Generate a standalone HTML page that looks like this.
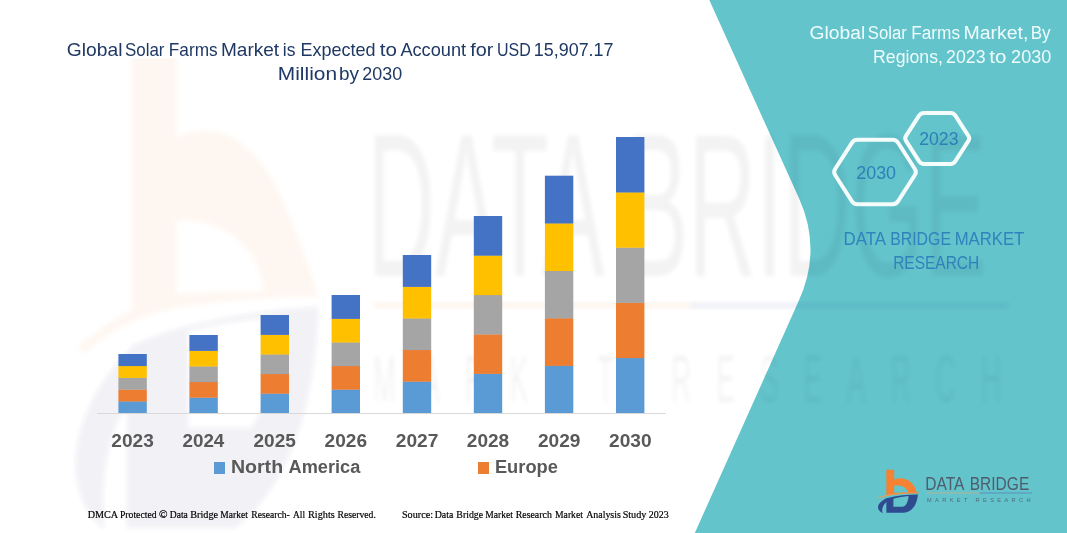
<!DOCTYPE html>
<html lang="en">
<head>
<meta charset="utf-8">
<title>Global Solar Farms Market</title>
<style>
html,body{margin:0;padding:0;background:#fff;}
body{width:1067px;height:533px;overflow:hidden;font-family:"Liberation Sans",sans-serif;}
svg{display:block;}
.sans{font-family:"Liberation Sans",sans-serif;}
.serif{font-family:"Liberation Serif",serif;}
</style>
</head>
<body>
<svg width="1067" height="533" viewBox="0 0 1067 533">
<defs>
<filter id="soft" x="-5%" y="-5%" width="110%" height="110%"><feGaussianBlur stdDeviation="2"/></filter>
</defs>
<rect width="1067" height="533" fill="#ffffff"/>

<!-- faint watermark on the white area -->
<g filter="url(#soft)">
<path fill-rule="evenodd" fill="#F58232" opacity="0.075" d="M132 30 H176 V138 C215 118 255 140 280 195 C298 235 310 270 318 296 C260 297 210 302 176 308 C150 313 120 322 84 353 L78 346 C100 330 115 318 132 310 Z M176 221.5 C200 217 232 228 250 252 C258 264 262 278 264 291.5 L176 293 Z"/>
<path fill-rule="evenodd" fill="#34497C" opacity="0.07" d="M318 307 C316 390 296 480 235 528 L127 528 L127 405 C110 430 100 470 104 529 C66 500 58 420 134 345 C170 328 234 312 318 307 Z M188 331 C220 323 250 319 276 317 C275 370 268 410 250 428 L188 428 Z"/>
</g>
<rect x="60" y="28" width="560" height="30.5" fill="#ffffff"/>

<!-- teal side panel -->
<path d="M709.3 0 L798.9 198 Q822 249 799.1 300.1 L694.8 533 L1067 533 L1067 0 Z" fill="#63C4CC"/>
<!-- faint brand watermark lettering, runs across the chart and the panel -->
<g class="sans" opacity="0.048" fill="#000" filter="url(#soft)">
<text transform="translate(367,275.5) scale(0.50,1)" font-size="205" textLength="1240" lengthAdjust="spacingAndGlyphs">DATA BRIDGE</text>
<text transform="translate(373,401.5) scale(0.42,1)" font-size="66" textLength="1495" lengthAdjust="spacing">MARKET RESEARCH</text>
</g>
<g opacity="0.07" filter="url(#soft)">
<rect x="375" y="302" width="315" height="7" fill="#F58232"/>
<rect x="690" y="302" width="318" height="7" fill="#2F4B8F"/>
</g>

<!-- chart -->
<g>
<rect x="118.4" y="401.2" width="28.4" height="12.1" fill="#5B9BD5"/>
<rect x="118.4" y="389.4" width="28.4" height="12.1" fill="#ED7D31"/>
<rect x="118.4" y="377.6" width="28.4" height="12.1" fill="#A5A5A5"/>
<rect x="118.4" y="365.8" width="28.4" height="12.1" fill="#FFC000"/>
<rect x="118.4" y="354.0" width="28.4" height="12.1" fill="#4472C4"/>
<rect x="189.4" y="397.4" width="28.4" height="15.9" fill="#5B9BD5"/>
<rect x="189.4" y="381.8" width="28.4" height="15.9" fill="#ED7D31"/>
<rect x="189.4" y="366.2" width="28.4" height="15.9" fill="#A5A5A5"/>
<rect x="189.4" y="350.6" width="28.4" height="15.9" fill="#FFC000"/>
<rect x="189.4" y="335.0" width="28.4" height="15.9" fill="#4472C4"/>
<rect x="260.6" y="393.4" width="28.4" height="19.9" fill="#5B9BD5"/>
<rect x="260.6" y="373.8" width="28.4" height="19.9" fill="#ED7D31"/>
<rect x="260.6" y="354.2" width="28.4" height="19.9" fill="#A5A5A5"/>
<rect x="260.6" y="334.6" width="28.4" height="19.9" fill="#FFC000"/>
<rect x="260.6" y="315.0" width="28.4" height="19.9" fill="#4472C4"/>
<rect x="331.6" y="389.4" width="28.4" height="23.9" fill="#5B9BD5"/>
<rect x="331.6" y="365.8" width="28.4" height="23.9" fill="#ED7D31"/>
<rect x="331.6" y="342.2" width="28.4" height="23.9" fill="#A5A5A5"/>
<rect x="331.6" y="318.6" width="28.4" height="23.9" fill="#FFC000"/>
<rect x="331.6" y="295.0" width="28.4" height="23.9" fill="#4472C4"/>
<rect x="402.8" y="381.4" width="28.4" height="31.9" fill="#5B9BD5"/>
<rect x="402.8" y="349.8" width="28.4" height="31.9" fill="#ED7D31"/>
<rect x="402.8" y="318.2" width="28.4" height="31.9" fill="#A5A5A5"/>
<rect x="402.8" y="286.6" width="28.4" height="31.9" fill="#FFC000"/>
<rect x="402.8" y="255.0" width="28.4" height="31.9" fill="#4472C4"/>
<rect x="473.8" y="373.6" width="28.4" height="39.7" fill="#5B9BD5"/>
<rect x="473.8" y="334.2" width="28.4" height="39.7" fill="#ED7D31"/>
<rect x="473.8" y="294.8" width="28.4" height="39.7" fill="#A5A5A5"/>
<rect x="473.8" y="255.4" width="28.4" height="39.7" fill="#FFC000"/>
<rect x="473.8" y="216.0" width="28.4" height="39.7" fill="#4472C4"/>
<rect x="544.9" y="365.5" width="28.4" height="47.8" fill="#5B9BD5"/>
<rect x="544.9" y="318.1" width="28.4" height="47.8" fill="#ED7D31"/>
<rect x="544.9" y="270.6" width="28.4" height="47.8" fill="#A5A5A5"/>
<rect x="544.9" y="223.2" width="28.4" height="47.8" fill="#FFC000"/>
<rect x="544.9" y="175.7" width="28.4" height="47.8" fill="#4472C4"/>
<rect x="616.0" y="357.8" width="28.4" height="55.5" fill="#5B9BD5"/>
<rect x="616.0" y="302.6" width="28.4" height="55.5" fill="#ED7D31"/>
<rect x="616.0" y="247.4" width="28.4" height="55.5" fill="#A5A5A5"/>
<rect x="616.0" y="192.2" width="28.4" height="55.5" fill="#FFC000"/>
<rect x="616.0" y="137.0" width="28.4" height="55.5" fill="#4472C4"/>
<rect x="97" y="413" width="569" height="1" fill="#D9D9D9"/>
</g>
<g class="sans" font-size="18.6" font-weight="bold" fill="#595959">
<text y="446.8"><tspan x="111.33" textLength="42.48" lengthAdjust="spacingAndGlyphs">2023</tspan></text>
<text y="446.8"><tspan x="182.44" textLength="41.90" lengthAdjust="spacingAndGlyphs">2024</tspan></text>
<text y="446.8"><tspan x="253.53" textLength="42.34" lengthAdjust="spacingAndGlyphs">2025</tspan></text>
<text y="446.8"><tspan x="324.63" textLength="42.48" lengthAdjust="spacingAndGlyphs">2026</tspan></text>
<text y="446.8"><tspan x="395.73" textLength="42.68" lengthAdjust="spacingAndGlyphs">2027</tspan></text>
<text y="446.8"><tspan x="466.83" textLength="42.38" lengthAdjust="spacingAndGlyphs">2028</tspan></text>
<text y="446.8"><tspan x="537.93" textLength="42.53" lengthAdjust="spacingAndGlyphs">2029</tspan></text>
<text y="446.8"><tspan x="609.03" textLength="42.58" lengthAdjust="spacingAndGlyphs">2030</tspan></text>
</g>

<!-- legend -->
<rect x="214" y="462" width="11" height="12" fill="#5B9BD5"/>
<rect x="478" y="462" width="11" height="12" fill="#ED7D31"/>
<g class="sans" font-size="17.6" font-weight="bold" fill="#595959">
<text y="472.7"><tspan x="230.93" textLength="52.17" lengthAdjust="spacingAndGlyphs">North</tspan> <tspan x="288.55" textLength="71.75" lengthAdjust="spacingAndGlyphs">America</tspan></text>
<text y="472.7"><tspan x="494.91" textLength="62.98" lengthAdjust="spacingAndGlyphs">Europe</tspan></text>
</g>

<!-- title -->
<g class="sans" font-size="18.2" fill="#1F3864">
<text y="55.6"><tspan x="66.84" textLength="55.63" lengthAdjust="spacingAndGlyphs">Global</tspan> <tspan x="124.94" textLength="39.51" lengthAdjust="spacingAndGlyphs">Solar</tspan> <tspan x="168.82" textLength="48.79" lengthAdjust="spacingAndGlyphs">Farms</tspan> <tspan x="220.98" textLength="58.14" lengthAdjust="spacingAndGlyphs">Market</tspan> <tspan x="282.86" textLength="12.65" lengthAdjust="spacingAndGlyphs">is</tspan> <tspan x="300.56" textLength="75.10" lengthAdjust="spacingAndGlyphs">Expected</tspan> <tspan x="379.89" textLength="17.16" lengthAdjust="spacingAndGlyphs">to</tspan> <tspan x="400.40" textLength="65.71" lengthAdjust="spacingAndGlyphs">Account</tspan> <tspan x="470.15" textLength="23.14" lengthAdjust="spacingAndGlyphs">for</tspan> <tspan x="497.00" textLength="33.74" lengthAdjust="spacingAndGlyphs">USD</tspan> <tspan x="533.86" textLength="79.62" lengthAdjust="spacingAndGlyphs">15,907.17</tspan></text>
<text y="79.8"><tspan x="277.83" textLength="59.21" lengthAdjust="spacingAndGlyphs">Million</tspan> <tspan x="339.02" textLength="20.01" lengthAdjust="spacingAndGlyphs">by</tspan> <tspan x="362.31" textLength="39.80" lengthAdjust="spacingAndGlyphs">2030</tspan></text>
</g>

<!-- footer -->
<g class="serif" font-size="10.7" fill="#000000" stroke="#000000" stroke-width="0.2">
<text y="518.3"><tspan x="87.63" textLength="29.85" lengthAdjust="spacingAndGlyphs">DMCA</tspan> <tspan x="119.93" textLength="36.65" lengthAdjust="spacingAndGlyphs">Protected</tspan> <tspan x="159.12" textLength="8.52" lengthAdjust="spacingAndGlyphs">©</tspan> <tspan x="169.74" textLength="18.06" lengthAdjust="spacingAndGlyphs">Data</tspan> <tspan x="190.22" textLength="27.93" lengthAdjust="spacingAndGlyphs">Bridge</tspan> <tspan x="220.34" textLength="27.51" lengthAdjust="spacingAndGlyphs">Market</tspan> <tspan x="251.24" textLength="38.50" lengthAdjust="spacingAndGlyphs">Research-</tspan> <tspan x="293.03" textLength="12.04" lengthAdjust="spacingAndGlyphs">All</tspan> <tspan x="308.02" textLength="26.73" lengthAdjust="spacingAndGlyphs">Rights</tspan> <tspan x="337.53" textLength="38.30" lengthAdjust="spacingAndGlyphs">Reserved.</tspan></text>
<text y="518.3"><tspan x="401.94" textLength="31.07" lengthAdjust="spacingAndGlyphs">Source:</tspan> <tspan x="434.73" textLength="18.67" lengthAdjust="spacingAndGlyphs">Data</tspan> <tspan x="456.33" textLength="26.81" lengthAdjust="spacingAndGlyphs">Bridge</tspan> <tspan x="485.34" textLength="27.61" lengthAdjust="spacingAndGlyphs">Market</tspan> <tspan x="515.73" textLength="36.09" lengthAdjust="spacingAndGlyphs">Research</tspan> <tspan x="555.03" textLength="27.92" lengthAdjust="spacingAndGlyphs">Market</tspan> <tspan x="586.13" textLength="34.72" lengthAdjust="spacingAndGlyphs">Analysis</tspan> <tspan x="622.64" textLength="23.78" lengthAdjust="spacingAndGlyphs">Study</tspan> <tspan x="648.78" textLength="19.90" lengthAdjust="spacingAndGlyphs">2023</tspan></text>
</g>

<!-- side panel text -->
<g class="sans" font-size="17.6" fill="#EFFCFC">
<text y="38.7"><tspan x="809.54" textLength="55.73" lengthAdjust="spacingAndGlyphs">Global</tspan> <tspan x="867.75" textLength="38.99" lengthAdjust="spacingAndGlyphs">Solar</tspan> <tspan x="911.22" textLength="48.89" lengthAdjust="spacingAndGlyphs">Farms</tspan> <tspan x="963.44" textLength="65.00" lengthAdjust="spacingAndGlyphs">Market,</tspan> <tspan x="1030.63" textLength="19.96" lengthAdjust="spacingAndGlyphs">By</tspan></text>
<text y="63.1"><tspan x="873.08" textLength="69.85" lengthAdjust="spacingAndGlyphs">Regions,</tspan> <tspan x="946.12" textLength="39.38" lengthAdjust="spacingAndGlyphs">2023</tspan> <tspan x="989.39" textLength="17.16" lengthAdjust="spacingAndGlyphs">to</tspan> <tspan x="1011.10" textLength="40.22" lengthAdjust="spacingAndGlyphs">2030</tspan></text>
</g>

<!-- hexagons -->
<g fill="none" stroke="#F4FCFC" stroke-width="4" stroke-linejoin="round">
<path d="M835.1 175.0 Q833.2 172.0 835.1 169.0 L851.9 142.8 Q853.8 139.8 857.2 139.8 L892.8 139.8 Q896.2 139.8 898.1 142.8 L914.9 169.0 Q916.8 172.0 914.9 175.0 L898.1 201.2 Q896.2 204.2 892.8 204.2 L857.2 204.2 Q853.8 204.2 851.9 201.2 Z"/>
<path d="M906.0 140.9 Q904.4 138.4 906.0 135.9 L919.2 115.4 Q920.9 112.9 923.9 112.9 L950.6 112.9 Q953.6 112.9 955.2 115.4 L968.4 135.9 Q970.1 138.4 968.4 140.9 L955.2 161.4 Q953.6 163.9 950.6 163.9 L923.9 163.9 Q920.9 163.9 919.2 161.4 Z"/>
</g>
<g class="sans" font-size="18.6" fill="#2C80B8">
<text y="178.7"><tspan x="856.20" textLength="39.91" lengthAdjust="spacingAndGlyphs">2030</tspan></text>
<text y="144.8"><tspan x="919.22" textLength="39.27" lengthAdjust="spacingAndGlyphs">2023</tspan></text>
</g>

<g class="sans" font-size="17.8" fill="#2F82BC">
<text y="245"><tspan x="843.48" textLength="41.64" lengthAdjust="spacingAndGlyphs">DATA</tspan> <tspan x="890.13" textLength="60.93" lengthAdjust="spacingAndGlyphs">BRIDGE</tspan> <tspan x="954.66" textLength="69.60" lengthAdjust="spacingAndGlyphs">MARKET</tspan></text>
<text y="268.8"><tspan x="893.16" textLength="86.07" lengthAdjust="spacingAndGlyphs">RESEARCH</tspan></text>
</g>

<!-- logo -->
<g id="logo">
<g transform="translate(870,462) scale(0.1089)">
<path fill-rule="evenodd" fill="#F58232" d="M150 72 H222 V160 C310 125 405 175 428 276 L450 283 L442 290 C350 286 250 296 150 311 Z M222 221 C290 205 335 235 350 279 L222 282 Z"/>
<path fill="#E0A060" d="M72 324 C180 290 330 272 455 284 C330 282 190 300 80 331 Z"/>
<path fill-rule="evenodd" fill="#2F4B8F" d="M440 298 C432 400 380 466 300 467 L150 467 L150 368 C120 398 105 430 116 470 C60 440 50 385 150 333 C250 307 350 298 440 298 Z M215 338 C260 326 310 317 354 313 C350 370 330 410 295 412 L215 412 Z"/>
</g>
<g class="sans" font-size="18" fill="#4F5D6B">
<text y="489.9"><tspan x="925.29" textLength="38.23" lengthAdjust="spacingAndGlyphs">DATA</tspan> <tspan x="969.76" textLength="59.49" lengthAdjust="spacingAndGlyphs">BRIDGE</tspan></text>
</g>
<rect x="927" y="492.6" width="52.5" height="0.8" fill="#C9B08A"/>
<rect x="979.5" y="492.6" width="52.5" height="0.8" fill="#5B86B4"/>
<text class="sans" x="927" y="501.8" font-size="5.6" fill="#4F5D6B" opacity="0.85" textLength="103.5" lengthAdjust="spacing">MARKET RESEARCH</text>
</g>
</svg>
</body>
</html>
